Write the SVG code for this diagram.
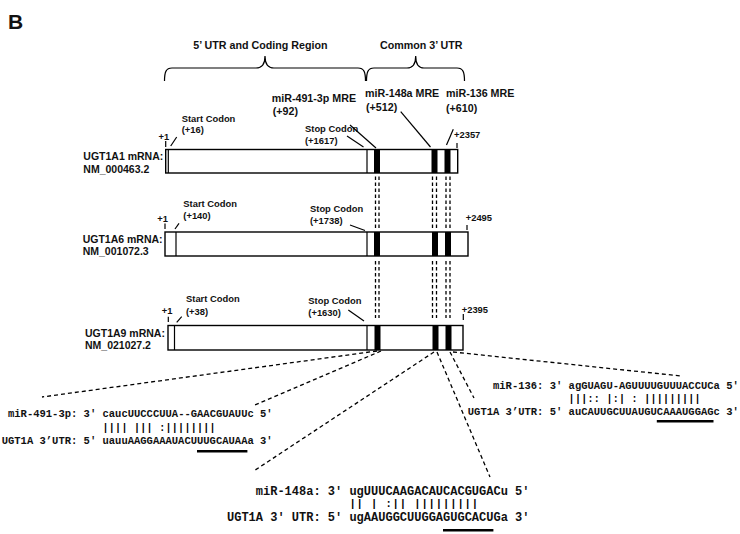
<svg xmlns="http://www.w3.org/2000/svg" width="740" height="534" viewBox="0 0 740 534">
<style>
.t{font-family:"Liberation Sans",Arial,sans-serif;font-weight:bold;fill:#111}
.h{font-size:10.7px}
.m{font-size:10.7px}
.s{font-size:9.4px}
.g{font-size:10.5px}
.q{font-family:"Liberation Mono","Courier New",monospace;font-weight:bold;fill:#111;font-size:10.5px}
.q2{font-size:12px}
.p{font-family:"Liberation Mono","Courier New",monospace;font-weight:bold;fill:#000;font-size:10px;letter-spacing:0.3px}
.p2{font-size:10.5px;letter-spacing:0.9px}
.bar{fill:#fff;stroke:#000;stroke-width:1.4}
.ln{stroke:#000;stroke-width:1.2;fill:none}
.vd{stroke:#000;stroke-width:1.3;stroke-dasharray:3.5 2.5}
.fd{stroke:#000;stroke-width:1.3;stroke-dasharray:4 3}
.band{fill:#000}
.ul{fill:#000}
</style>
<rect width="740" height="534" fill="#fff"/>
<text class="t" x="8" y="29" font-size="21">B</text>

<g id="regions">
<text class="t h" x="193.3" y="49">5’ UTR and Coding Region</text>
<text class="t h" x="380" y="49">Common 3’ UTR</text>
<path class="ln" d="M164.5,81 C164.5,72 166,68 172,68 L256,68 C262,68 265,64 265,56 C265,64 268,68 274,68 L358,68 C364,68 365.5,72 365.5,81"/>
<path class="ln" d="M366.5,81 C366.5,72 368,68 374,68 L407,68 C413,68 415.7,64 415.7,56 C415.7,64 418,68 424,68 L457,68 C463,68 464.5,72 464.5,81"/>
</g>

<g id="mre-labels">
<text class="t m" x="271.7" y="101.5">miR-491-3p MRE</text>
<text class="t m" x="272.7" y="114.5">(+92)</text>
<text class="t m" x="365" y="97">miR-148a MRE</text>
<text class="t m" x="366" y="111">(+512)</text>
<text class="t m" x="446" y="97">miR-136 MRE</text>
<text class="t m" x="446" y="112">(+610)</text>
</g>

<g id="ugt1a1">
<text class="t g" x="83.3" y="159.8">UGT1A1 mRNA:</text>
<text class="t g" x="83.3" y="172.8">NM_000463.2</text>
<rect class="bar" x="165.7" y="149.5" width="292" height="23.5"/>
<line class="ln" x1="168.3" y1="149.5" x2="168.3" y2="173"/>
<line class="ln" x1="367" y1="149.5" x2="367" y2="173"/>
<rect class="band" x="374" y="149.5" width="6" height="23.5"/>
<rect class="band" x="431.5" y="149.5" width="6" height="23.5"/>
<rect class="band" x="444.5" y="149.5" width="6" height="23.5"/>
<text class="t s" x="158.5" y="139.5">+1</text>
<text class="t s" x="181.7" y="121.7">Start Codon</text>
<text class="t s" x="181.7" y="133.4">(+16)</text>
<text class="t s" x="305" y="132.4">Stop Codon</text>
<text class="t s" x="305" y="143.5">(+1617)</text>
<text class="t s" x="454" y="138">+2357</text>
</g>

<g id="ugt1a6">
<text class="t g" x="82.7" y="242.5">UGT1A6 mRNA:</text>
<text class="t g" x="82.7" y="254.5">NM_001072.3</text>
<rect class="bar" x="165" y="232" width="303" height="24"/>
<line class="ln" x1="176" y1="232" x2="176" y2="256"/>
<line class="ln" x1="367" y1="232" x2="367" y2="256"/>
<rect class="band" x="374" y="232" width="6" height="24"/>
<rect class="band" x="432" y="232" width="6" height="24"/>
<rect class="band" x="445" y="232" width="6" height="24"/>
<text class="t s" x="157.3" y="221.7">+1</text>
<text class="t s" x="183.3" y="207.4">Start Codon</text>
<text class="t s" x="183.3" y="219.4">(+140)</text>
<text class="t s" x="310" y="212.4">Stop Codon</text>
<text class="t s" x="310" y="224">(+1738)</text>
<text class="t s" x="465.7" y="220.7">+2495</text>
</g>

<g id="ugt1a9">
<text class="t g" x="85" y="336.5">UGT1A9 mRNA:</text>
<text class="t g" x="85" y="348.8">NM_021027.2</text>
<rect class="bar" x="168" y="325.5" width="295" height="24.5"/>
<line class="ln" x1="174.5" y1="325.5" x2="174.5" y2="350"/>
<line class="ln" x1="367" y1="325.5" x2="367" y2="350"/>
<rect class="band" x="374.5" y="325.5" width="6" height="24.5"/>
<rect class="band" x="432.5" y="325.5" width="6" height="24.5"/>
<rect class="band" x="445.5" y="325.5" width="6" height="24.5"/>
<text class="t s" x="161.7" y="314">+1</text>
<text class="t s" x="186" y="301.7">Start Codon</text>
<text class="t s" x="186" y="315">(+38)</text>
<text class="t s" x="308.3" y="304">Stop Codon</text>
<text class="t s" x="308.3" y="315.7">(+1630)</text>
<text class="t s" x="461.7" y="312.7">+2395</text>
</g>

<g id="connectors">
<line class="ln" x1="165.7" y1="141" x2="165.7" y2="147"/>
<line class="ln" x1="457" y1="143" x2="457" y2="148"/>
<line class="ln" x1="165" y1="223.5" x2="165" y2="229"/>
<line class="ln" x1="467" y1="225" x2="467" y2="230"/>
<line class="ln" x1="168.3" y1="316.7" x2="168.3" y2="322"/>
<line class="ln" x1="463.3" y1="314" x2="463.3" y2="320"/>
<line class="ln" x1="170.7" y1="146" x2="176.7" y2="137"/>
<line class="ln" x1="175" y1="229" x2="179" y2="223.3"/>
<line class="ln" x1="176.7" y1="322.3" x2="181.7" y2="316.7"/>
<line class="ln" x1="347" y1="136" x2="363.5" y2="147"/>
<line class="ln" x1="350" y1="225" x2="365" y2="230.5"/>
<line class="ln" x1="348.3" y1="310" x2="364" y2="321"/>
<line class="ln" x1="350" y1="125" x2="376" y2="148"/>
<line class="ln" x1="400.7" y1="111.7" x2="430.5" y2="147"/>
<line class="ln" x1="453.3" y1="129.3" x2="446.5" y2="145"/>
<line class="vd" x1="375.5" y1="176.5" x2="375.5" y2="230"/>
<line class="vd" x1="379" y1="176.5" x2="379" y2="230"/>
<line class="vd" x1="432.5" y1="176.5" x2="432.5" y2="230"/>
<line class="vd" x1="436.5" y1="176.5" x2="436.5" y2="230"/>
<line class="vd" x1="446" y1="176.5" x2="446" y2="230"/>
<line class="vd" x1="450" y1="176.5" x2="450" y2="230"/>
<line class="vd" x1="375.5" y1="261" x2="375.5" y2="318"/>
<line class="vd" x1="379" y1="261" x2="379" y2="318"/>
<line class="vd" x1="432.5" y1="261" x2="432.5" y2="318"/>
<line class="vd" x1="436.5" y1="261" x2="436.5" y2="318"/>
<line class="vd" x1="446" y1="261" x2="446" y2="318"/>
<line class="vd" x1="450" y1="261" x2="450" y2="318"/>
<line class="fd" x1="377" y1="351" x2="42" y2="397"/>
<line class="fd" x1="381" y1="351" x2="255" y2="405"/>
<line class="fd" x1="434" y1="352" x2="253" y2="471.5"/>
<line class="fd" x1="437" y1="352" x2="490" y2="477"/>
<line class="fd" x1="450" y1="352" x2="474" y2="398"/>
<line class="fd" x1="453" y1="352" x2="681" y2="376"/>
</g>

<g id="site-mir491" xml:space="preserve">
<text class="q" x="8" y="416.5">miR-491-3p: 3' caucUUCCCUUA--GAACGUAUUc 5'</text>
<text class="p" x="102.5" y="430.5">    |||| |||  :||||||||</text>
<text class="q" x="1.7" y="443.5">UGT1A 3’UTR: 5' uauuAAGGAAAUACUUUGCAUAAa 3'</text>
<rect class="ul" x="197" y="450" width="50.4" height="2.5"/>
</g>

<g id="site-mir136" xml:space="preserve">
<text class="q" x="493" y="388.5">miR-136: 3' agGUAGU-AGUUUUGUUUACCUCa 5'</text>
<text class="p" x="568.6" y="401.5">  |||:: |:| : |||||||||</text>
<text class="q" x="467.8" y="415">UGT1A 3’UTR: 5' auCAUUGCUUAUGUCAAAUGGAGc 3'</text>
<rect class="ul" x="656.8" y="420" width="56.7" height="2.5"/>
</g>

<g id="site-mir148a" xml:space="preserve">
<text class="q q2" x="255.8" y="495">miR-148a: 3' ugUUUCAAGACAUCACGUGACu 5'</text>
<text class="p p2" x="349.4" y="507">  || |  :|| |||||||||</text>
<text class="q q2" x="227" y="520.5">UGT1A 3′ UTR: 5' ugAAUGGCUUGGAGUGCACUGa 3'</text>
<rect class="ul" x="443" y="529" width="50.4" height="2.5"/>
</g>
</svg>
